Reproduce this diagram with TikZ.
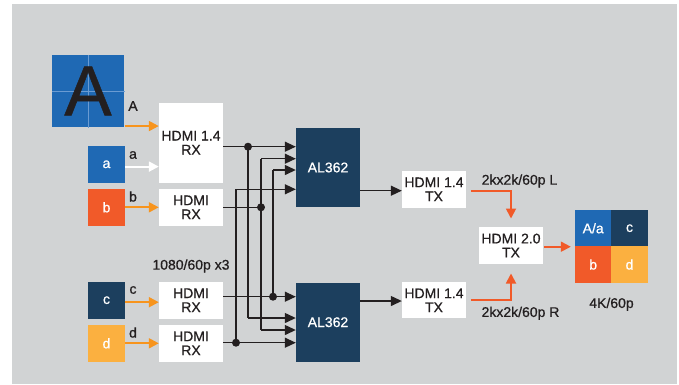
\documentclass[tikz,border=0pt]{standalone}
\usepackage{fontspec}
\setmainfont{Liberation Sans}[FakeBold=0.7]
\usetikzlibrary{arrows.meta,calc}
\definecolor{bgc}{HTML}{D1D3D4}
\definecolor{cblue}{HTML}{1F69B4}
\definecolor{cnavy}{HTML}{1C3F5E}
\definecolor{cred}{HTML}{F15A29}
\definecolor{cyel}{HTML}{FBB040}
\definecolor{corg}{HTML}{F7941D}
\definecolor{ctxt}{HTML}{231F20}
\definecolor{cgrid}{HTML}{6A9BD2}
\tikzset{
  txt/.style={font=\fontsize{14}{14}\selectfont, text=ctxt, align=center, inner sep=0pt},
  wbox/.style={fill=white, draw=none, minimum width=64pt, font=\fontsize{14}{14}\selectfont, text=ctxt, align=center, inner sep=0pt},
  srcbox/.style={draw=none, minimum width=36.5pt, minimum height=36.7pt, inner sep=0pt, text=white, font=\fontsize{14}{14}\selectfont},
  albox/.style={fill=cnavy, draw=none, minimum width=64pt, minimum height=79pt, text=white, font=\fontsize{14}{14}\selectfont},
  quad/.style={draw=none, minimum width=36.35pt, minimum height=36.35pt, inner sep=0pt, text=white, font=\fontsize{14}{14}\selectfont},
  oarrow/.style={draw=corg, line width=2pt, -{Triangle[length=10pt,width=10pt]}},
  warrow/.style={draw=white, line width=2pt, -{Triangle[length=10pt,width=10pt]}},
  rarrow/.style={draw=cred, line width=1.8pt, -{Triangle[length=10pt,width=10pt]}},
  barrow/.style={draw=ctxt, line width=1.3pt, -{Triangle[length=11pt,width=10pt]}},
  bline/.style={draw=ctxt, line width=1.3pt},
  bdot/.style={fill=ctxt, circle, inner sep=0pt, minimum size=8pt},
}
\begin{document}
\begin{tikzpicture}[x=1pt,y=-1pt]
\useasboundingbox (0,0) rectangle (679,384);
\fill[bgc] (12,4) rectangle (677,384);

% big A source
\node[fill=cblue, minimum width=72pt, minimum height=72.3pt, inner sep=0pt] (bigA) at (88.3,91.2) {};
\draw[cgrid, line width=0.5pt] (bigA.north) -- (bigA.south);
\draw[cgrid, line width=0.5pt] (bigA.west) -- (bigA.east);
\node[font=\fontsize{71}{71}\selectfont, text=ctxt, inner sep=0pt] (bigAletter) at (88,91) {A};

% small sources
\node[srcbox, fill=cblue] (sa) at (106.5,164.3) {a};
\node[srcbox, fill=cred] (sb) at (106.5,207.3) {b};
\node[srcbox, fill=cnavy] (sc) at (106.5,300.2) {c};
\node[srcbox, fill=cyel] (sd) at (106.5,343.3) {d};

% receivers
\node[wbox, minimum height=80pt] (rxA) at (191,142.7) {HDMI 1.4\\RX};
\node[wbox, minimum height=36.7pt] (rxB) at (191,207.3) {HDMI\\RX};
\node[wbox, minimum height=37pt] (rxC) at (191,300.2) {HDMI\\RX};
\node[wbox, minimum height=36.7pt] (rxD) at (191,343.3) {HDMI\\RX};

% AL362
\node[albox] (al1) at (328,167.5) {AL362};
\node[albox] (al2) at (328,322.2) {AL362};

% transmitters
\node[wbox, minimum height=36.7pt] (tx1) at (434,189.3) {HDMI 1.4\\TX};
\node[wbox, minimum height=36pt] (tx2) at (434,300.3) {HDMI 1.4\\TX};
\node[wbox, minimum height=37.6pt] (tx20) at (511,245.5) {HDMI 2.0\\TX};

% output grid
\node[quad, fill=cblue] (qA) at (593.2,228.2) {A/a};
\node[quad, fill=cnavy] (qc) at (629.5,228.2) {c};
\node[quad, fill=cred] (qb) at (593.2,264.5) {b};
\node[quad, fill=cyel] (qd) at (629.5,264.5) {d};

% labels
\node[txt] (lA) at (133,106) {A};
\node[txt] (la) at (133,155) {a};
\node[txt] (lb) at (133,196.5) {b};
\node[txt] (lc) at (133,290) {c};
\node[txt] (ld) at (133,332.5) {d};
\node[txt] (l1080) at (191,266) {1080/60p x3};
\node[txt] (lL) at (519.5,181) {2kx2k/60p L};
\node[txt] (lR) at (520.5,313.3) {2kx2k/60p R};
\node[txt] (l4k) at (611.5,304.3) {4K/60p};

% source arrows
\coordinate (aS) at ($(bigA.south east)+(0,-1.5)$);
\draw[oarrow] (aS) -- (aS -| rxA.west);
\coordinate (aa) at ($(sa.east)+(0,2.3)$);
\draw[warrow] (aa) -- (aa -| rxA.west);
\draw[oarrow] (sb.east) -- (rxB.west);
\coordinate (cc) at ($(sc.east)+(0,2)$);
\draw[oarrow] (cc) -- (cc -| rxC.west);
\draw[oarrow] (sd.east) -- (rxD.west);

% bus lines
% A
\draw[barrow] (rxA.east |- 0,146.7) -- (al1.west |- 0,146.7);
\draw[bline] (248,146.7) -- (248,318);
\draw[barrow] (248,318) -- (al2.west |- 0,318);
\node[bdot] (dA) at (248,146.7) {};
% B
\draw[bline] (rxB.east |- 0,207.3) -- (261,207.3);
\draw[bline] (261,158.7) -- (261,330);
\draw[barrow] (261,158.7) -- (al1.west |- 0,158.7);
\draw[barrow] (261,330) -- (al2.west |- 0,330);
\node[bdot] (dB) at (261,207.3) {};
% C
\draw[barrow] (rxC.east |- 0,296.7) -- (al2.west |- 0,296.7);
\draw[bline] (273,296.7) -- (273,170);
\draw[barrow] (273,170) -- (al1.west |- 0,170);
\node[bdot] (dC) at (273,296.7) {};
% D
\draw[barrow] (rxD.east |- 0,342.7) -- (al2.west |- 0,342.7);
\draw[bline] (236,342.7) -- (236,189.3);
\draw[barrow] (236,189.3) -- (al1.west |- 0,189.3);
\node[bdot] (dD) at (236,342.7) {};

% AL362 to TX
\draw[barrow] (al1.east |- 0,190.7) -- (tx1.west |- 0,190.7);
\draw[barrow] (al2.east |- 0,301) -- (tx2.west |- 0,301);

% TX to HDMI 2.0
\coordinate (t1o) at ($(tx1.east)+(4.7,1.4)$);
\draw[rarrow, shorten >=8pt] (t1o) -| (tx20.north);
\coordinate (t2o) at ($(tx2.east)+(4.7,-0.6)$);
\draw[rarrow, shorten >=9pt] (t2o) -| (tx20.south);
\coordinate (t20o) at ($(tx20.east)+(1,1.2)$);
\draw[rarrow, shorten >=4pt] (t20o) -- (qA.west |- t20o);
\end{tikzpicture}
\end{document}
